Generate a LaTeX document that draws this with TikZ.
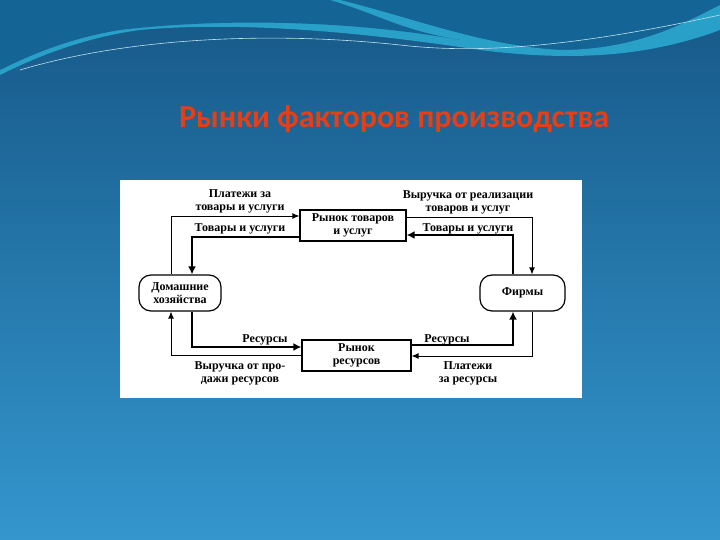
\documentclass[tikz,border=0pt]{standalone}
\usepackage{fontspec}
\setmainfont{Liberation Serif}
\newfontfamily\titlefont{Carlito}
\usetikzlibrary{arrows.meta}
\definecolor{bgtop}{RGB}{22,88,135}
\definecolor{bgbot}{RGB}{52,150,205}
\definecolor{wave}{RGB}{40,160,200}
\definecolor{wavedark}{RGB}{20,100,150}
\definecolor{titlecol}{RGB}{232,62,22}
\begin{document}
\begin{tikzpicture}[x=1pt,y=-1pt,
  lbl/.style={font=\bfseries\fontsize{12}{13}\selectfont,align=center,inner sep=0pt},
  box/.style={draw,line width=1.2pt,fill=white,font=\bfseries\fontsize{12}{13}\selectfont,align=center,inner sep=0pt},
  thin/.style={line width=0.9pt,-{Latex[length=7pt,width=6pt]}},
  thick/.style={line width=2.2pt,-{Latex[length=8pt,width=8pt]}}]
\useasboundingbox (0,0) rectangle (720,540);
\shade[top color=bgtop,bottom color=bgbot] (0,0) rectangle (720,540);
% waves
\fill[wavedark] (0,0) -- (720,0) -- (720,20) .. controls (600,70) and (480,50) .. (330,25) .. controls (200,10) and (60,30) .. (0,75) -- cycle;
\fill[wave] (0,0) -- (340,0) .. controls (420,20) and (480,45) .. (560,50) .. controls (640,50) and (690,20) .. (720,5) -- (720,30) .. controls (640,60) and (560,60) .. (480,50) .. controls (380,35) and (250,20) .. (140,30) .. controls (80,38) and (30,60) .. (0,75) -- cycle;
\fill[wavedark] (0,0) -- (330,0) .. controls (380,15) and (400,30) .. (460,40) .. controls (350,20) and (220,18) .. (120,30) .. controls (70,38) and (30,55) .. (0,70) -- cycle;
\draw[white!70!wave,line width=0.6pt] (20,70) .. controls (120,40) and (260,30) .. (400,45) .. controls (470,53) and (560,50) .. (720,15);
\node[font=\titlefont\bfseries\fontsize{32}{34}\selectfont,text=titlecol] (title) at (394,119) {Рынки факторов производства};
% diagram
\fill[white] (120,180) rectangle (582,398);
\node[box,minimum width=106pt,minimum height=31pt] (goods) at (353,225.5) {Рынок товаров\\и услуг};
\node[box,minimum width=109pt,minimum height=31pt] (res) at (356.5,355.5) {Рынок\\ресурсов};
\node[box,rounded corners=12pt,minimum width=82pt,minimum height=36pt] (hh) at (180,293) {Домашние\\хозяйства};
\node[box,rounded corners=12pt,minimum width=85pt,minimum height=36pt] (firm) at (522.5,293) {Фирмы};
% connectors
\draw[thin] (hh.north -| 171,0) -- (171,216) -- (goods.west |- 0,216);
\draw[thick] (goods.west |- 0,237) -- (192,237) -- (hh.north -| 192,0);
\draw[thin] (goods.east |- 0,217) -- (532,217) -- (firm.north -| 532,0);
\draw[thick] (firm.north -| 513,0) -- (513,235) -- (goods.east |- 0,235);
\draw[thick] (hh.south -| 192,0) -- (192,347) -- (res.west |- 0,347);
\draw[thick] (res.east |- 0,345) -- (513,345) -- (firm.south -| 513,0);
\draw[thin] (firm.south -| 532,0) -- (532,356) -- (res.east |- 0,356);
\draw[thin] (res.west |- 0,355) -- (171,355) -- (hh.south -| 171,0);
% labels
\node[lbl] (l1) at (240,201) {Платежи за\\товары и услуги};
\node[lbl] (l2) at (240,229) {Товары и услуги};
\node[lbl] (l3) at (468,202) {Выручка от реализации\\товаров и услуг};
\node[lbl] (l4) at (468,229) {Товары и услуги};
\node[lbl] (l5) at (265,340) {Ресурсы};
\node[lbl] (l6) at (447,340) {Ресурсы};
\node[lbl] (l7) at (240,373) {Выручка от про-\\дажи ресурсов};
\node[lbl] (l8) at (468,373) {Платежи\\за ресурсы};
\end{tikzpicture}
\end{document}
